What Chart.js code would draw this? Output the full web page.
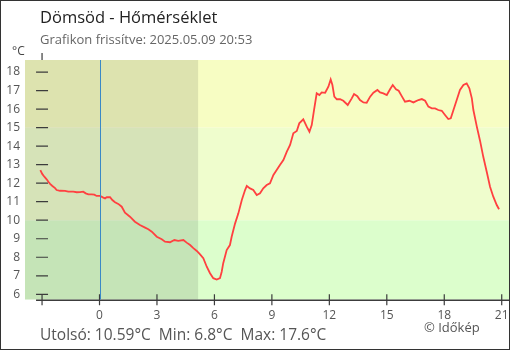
<!DOCTYPE html>
<html>
<head>
<meta charset="utf-8">
<title>Dömsöd - Hőmérséklet</title>
<script src="https://cdn.jsdelivr.net/npm/chart.js@4.4.1/dist/chart.umd.min.js"></script>
<style>
  body { margin: 0; background: #fff; }
  #wrap { position: relative; width: 510px; height: 350px; overflow: hidden; }
  #chart { position: absolute; left: 0; top: 0; }
  .txt { position: absolute; font-family: "Open Sans", sans-serif; line-height: 1; white-space: pre; }
  #title { left: 40px; top: 9.4px; font-size: 16.5px; color: #222; }
  #subtitle { left: 40px; top: 33px; font-size: 13px; color: #666; }
  #unit { left: 12px; top: 45.3px; font-size: 12px; color: #444; }
  #footer { left: 40px; top: 327px; font-size: 15.5px; color: #555; }
  #copy { left: 424px; top: 321px; font-size: 13px; color: #555; }
  #frame { position: absolute; left: 0; top: 0; width: 510px; height: 350px; box-sizing: border-box; border: 1px solid #333; pointer-events: none; }
</style>
</head>
<body>
<div id="wrap">
  <canvas id="chart" width="510" height="350"></canvas>
  <div class="txt" id="title">Dömsöd - Hőmérséklet</div>
  <div class="txt" id="subtitle">Grafikon frissítve: 2025.05.09 20:53</div>
  <div class="txt" id="unit">°C</div>
  <div class="txt" id="footer">Utolsó: 10.59°C  Min: 6.8°C  Max: 17.6°C</div>
  <div class="txt" id="copy">© Időkép</div>
  <div id="frame"></div>
</div>
<script>
// hours relative to midnight, temperature in °C
const hours = [
  -3.09, -2.99, -2.88, -2.76, -2.67, -2.58, -2.46, -2.32, -2.24, -2.06,
  -1.80, -1.63, -1.37, -1.19, -1.02, -0.85, -0.72, -0.58, -0.41, -0.27,
  -0.15, 0.03, 0.20, 0.29, 0.38, 0.55, 0.67, 0.81, 0.98, 1.16,
  1.33, 1.59, 1.85, 2.11, 2.38, 2.55, 2.73, 2.99, 3.25, 3.42,
  3.68, 3.91, 4.11, 4.38, 4.55, 4.73, 4.90, 5.08, 5.25, 5.42,
  5.60, 5.77, 5.94, 6.12, 6.29, 6.38, 6.46, 6.64, 6.81, 6.90,
  7.08, 7.25, 7.43, 7.60, 7.69, 7.86, 8.03, 8.21, 8.38, 8.55,
  8.73, 8.90, 9.08, 9.25, 9.42, 9.60, 9.78, 9.95, 10.12, 10.30,
  10.43, 10.64, 10.82, 10.96, 11.08, 11.20, 11.34, 11.48, 11.60, 11.78,
  11.95, 12.07, 12.16, 12.26, 12.39, 12.56, 12.73, 12.96, 13.17, 13.29,
  13.46, 13.60, 13.78, 13.95, 14.13, 14.30, 14.51, 14.65, 14.82, 15.00,
  15.17, 15.31, 15.48, 15.62, 15.78, 15.95, 16.18, 16.39, 16.65, 16.83,
  17.00, 17.17, 17.35, 17.52, 17.69, 17.87, 18.04, 18.21, 18.34, 18.48,
  18.65, 18.82, 19.00, 19.17, 19.31, 19.44, 19.52, 19.70, 19.87, 20.04,
  20.22, 20.39, 20.56, 20.74, 20.86
];
const temps = [
  12.71, 12.50, 12.35, 12.21, 12.08, 11.96, 11.85, 11.73, 11.63, 11.59,
  11.58, 11.54, 11.54, 11.51, 11.52, 11.54, 11.45, 11.40, 11.40, 11.38,
  11.31, 11.31, 11.22, 11.18, 11.24, 11.24, 11.09, 10.97, 10.88, 10.73,
  10.41, 10.19, 9.92, 9.74, 9.60, 9.51, 9.38, 9.11, 8.97, 8.84,
  8.81, 8.93, 8.89, 8.93, 8.79, 8.66, 8.49, 8.34, 8.16, 7.95,
  7.49, 7.14, 6.87, 6.80, 6.87, 7.22, 7.68, 8.39, 8.66, 9.11,
  9.83, 10.37, 11.09, 11.63, 11.85, 11.72, 11.63, 11.36, 11.45, 11.72,
  11.90, 11.99, 12.44, 12.71, 12.98, 13.25, 13.70, 14.06, 14.69, 14.82,
  15.23, 15.45, 15.05, 14.78, 15.14, 15.95, 16.85, 16.76, 16.90, 16.88,
  17.21, 17.60, 17.30, 16.67, 16.53, 16.53, 16.45, 16.22, 16.58, 16.81,
  16.70, 16.49, 16.36, 16.34, 16.67, 16.88, 17.03, 16.90, 16.85, 16.76,
  17.07, 17.30, 17.07, 16.99, 16.70, 16.40, 16.45, 16.36, 16.49, 16.54,
  16.45, 16.13, 16.04, 16.04, 15.95, 15.91, 15.68, 15.46, 15.50, 15.95,
  16.49, 17.03, 17.30, 17.39, 17.12, 16.58, 15.95, 15.05, 14.28, 13.41,
  12.60, 11.81, 11.27, 10.82, 10.59
];

const xTicks = [-3, 0, 3, 6, 9, 12, 15, 18, 21];
const xTickLabels = ['', '0', '3', '6', '9', '12', '15', '18', '21'];
const yTicks = [6, 7, 8, 9, 10, 11, 12, 13, 14, 15, 16, 17, 18];

// background temperature bands (lower bound, upper bound, colour)
const bandFrom = [-50, 10, 15];
const bandTo = [10, 15, 50];
const bandColors = ['#dcfecc', '#effdcd', '#f7fdc3'];
const sunrise = 5.15;

const axisColor = '#3c3c3c';

const backdrop = {
  id: 'backdrop',
  beforeDatasetsDraw(chart) {
    const { ctx, chartArea: a, scales: { x, y } } = chart;
    ctx.save();
    for (let i = 0; i < bandFrom.length; i++) {
      const top = Math.max(y.getPixelForValue(bandTo[i]), a.top);
      const bot = Math.min(y.getPixelForValue(bandFrom[i]), a.bottom);
      ctx.fillStyle = bandColors[i];
      ctx.fillRect(a.left, top, a.right - a.left, bot - top);
    }
    // night until sunrise
    ctx.fillStyle = 'rgba(0,0,0,0.1)';
    ctx.fillRect(a.left, a.top, x.getPixelForValue(sunrise) - a.left, a.bottom - a.top);

    // short y tick marks across the -3h position
    const ax = x.getPixelForValue(xTicks[0]);
    ctx.strokeStyle = axisColor;
    ctx.lineWidth = 1.2;
    ctx.beginPath();
    yTicks.forEach(v => {
      const py = y.getPixelForValue(v);
      ctx.moveTo(ax - 6, py);
      ctx.lineTo(ax + 6, py);
    });
    ctx.moveTo(ax, a.top - 7);
    ctx.lineTo(ax, a.top);
    ctx.stroke();

    // x axis line and ticks
    const by = a.bottom + 0.8;
    ctx.lineWidth = 1.5;
    ctx.beginPath();
    ctx.moveTo(ax - 6, by);
    ctx.lineTo(a.right, by);
    ctx.stroke();
    ctx.lineWidth = 1.2;
    ctx.beginPath();
    xTicks.forEach(v => {
      const px = x.getPixelForValue(v);
      ctx.moveTo(px, by - 6);
      ctx.lineTo(px, by + 5);
    });
    ctx.stroke();
    ctx.restore();
  },
  afterDatasetsDraw(chart) {
    const { ctx, chartArea: a, scales: { x } } = chart;
    const px = Math.round(x.getPixelForValue(0)) + 0.5;
    ctx.save();
    ctx.strokeStyle = '#3a88c6';
    ctx.lineWidth = 1;
    ctx.beginPath();
    ctx.moveTo(px, a.top);
    ctx.lineTo(px, a.bottom);
    ctx.stroke();
    ctx.restore();
  }
};

const tickFont = { family: 'Open Sans', size: 12, lineHeight: 1.2 };

new Chart(document.getElementById('chart'), {
  type: 'line',
  data: {
    datasets: [{
      data: hours.map((h, i) => ({ x: h, y: temps[i] })),
      borderColor: '#ff4040',
      borderWidth: 1.8,
      pointRadius: 0,
      tension: 0,
      fill: false
    }]
  },
  options: {
    responsive: false,
    animation: false,
    devicePixelRatio: 1,
    layout: { padding: { left: 1, right: 1, top: 60, bottom: 20.5 } },
    plugins: { legend: { display: false }, tooltip: { enabled: false } },
    scales: {
      x: {
        type: 'linear',
        min: -3.89,
        max: 21.38,
        grid: { display: false, drawTicks: false },
        border: { display: false },
        afterBuildTicks: s => { s.ticks = xTicks.map(v => ({ value: v })); },
        // fixed axis box; the last label may run into the frame
        afterFit: s => { s.height = 30; s.paddingLeft = 0; s.paddingRight = 0; },
        ticks: {
          autoSkip: false,
          maxRotation: 0,
          padding: 9,
          color: '#555',
          font: tickFont,
          callback: (v, i) => xTickLabels[i]
        }
      },
      y: {
        min: 5.72,
        max: 18.65,
        grid: { display: false, drawTicks: false },
        border: { display: false },
        afterBuildTicks: s => { s.ticks = yTicks.map(v => ({ value: v })); },
        afterFit: s => { s.width = 24; s.paddingTop = 0; s.paddingBottom = 0; },
        ticks: { padding: 5, color: '#555', font: tickFont }
      }
    }
  },
  plugins: [backdrop]
});
</script>
</body>
</html>
